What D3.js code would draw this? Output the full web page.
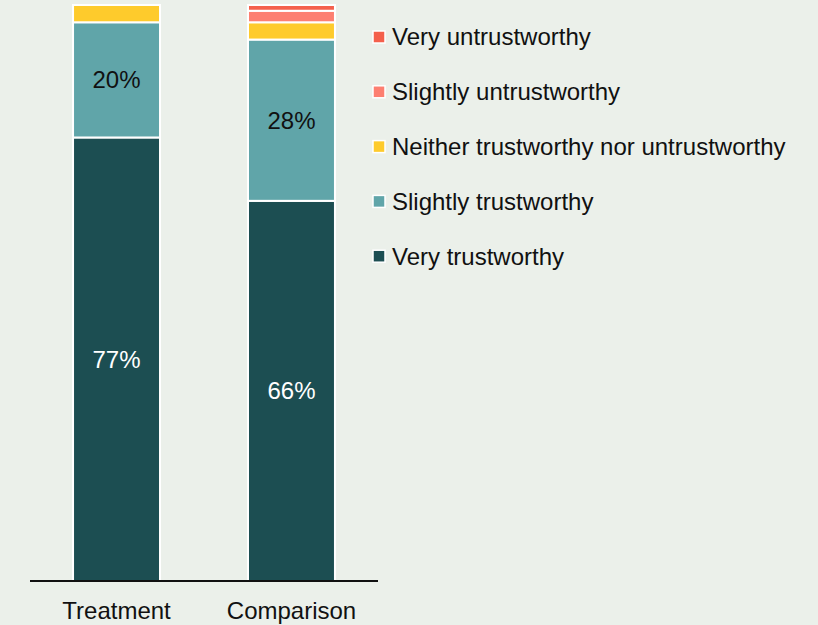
<!DOCTYPE html>
<html>
<head>
<meta charset="utf-8">
<script src="https://cdn.jsdelivr.net/npm/d3@7"></script>
<style>
  html, body { margin: 0; padding: 0; background: #ebf0ea; }
  svg { display: block; font-family: "Liberation Sans", Arial, sans-serif; }
</style>
</head>
<body>
<svg id="chart" width="818" height="625"></svg>
<script>
const groups = ["Treatment", "Comparison"];
const categories = ["Very trustworthy", "Slightly trustworthy", "Neither trustworthy nor untrustworthy", "Slightly untrustworthy", "Very untrustworthy"];
const treatmentValues = [77, 20, 3, 0, 0];
const comparisonValues = [66, 28, 3, 2, 1];
const colors = ["#1c4e52", "#60a5a9", "#fecb2c", "#fd7f71", "#f4604c"];
const labelColors = ["#ffffff", "#111111", "#111111", "#111111", "#111111"];
const legendOrder = ["Very untrustworthy", "Slightly untrustworthy", "Neither trustworthy nor untrustworthy", "Slightly trustworthy", "Very trustworthy"];

const rows = groups.map((g, i) => {
  const vals = i === 0 ? treatmentValues : comparisonValues;
  const o = { group: g };
  categories.forEach((c, j) => o[c] = vals[j]);
  return o;
});

const svg = d3.select("#chart");
const x = d3.scaleBand().domain(groups).range([30, 378]).paddingInner(0.503).paddingOuter(0.246);
const y = d3.scaleLinear().domain([0, 100]).range([581, 5]);
const color = d3.scaleOrdinal().domain(categories).range(colors);

const stack = d3.stack().keys(categories)(rows);

const layer = svg.append("g").selectAll("g").data(stack).join("g")
  .attr("fill", d => color(d.key));
layer.selectAll("rect").data(d => d.filter(s => s[1] - s[0] > 0)).join("rect")
  .attr("x", d => x(d.data.group))
  .attr("width", x.bandwidth())
  .attr("y", d => y(d[1]))
  .attr("height", d => y(d[0]) - y(d[1]))
  .attr("stroke", "#ffffff")
  .attr("stroke-width", 2);

// value labels for big segments
stack.forEach((s, k) => {
  s.forEach(d => {
    const v = d[1] - d[0];
    if (v >= 10) {
      svg.append("text")
        .attr("x", x(d.data.group) + x.bandwidth() / 2)
        .attr("y", (y(d[0]) + y(d[1])) / 2)
        .attr("dy", "0.35em")
        .attr("text-anchor", "middle")
        .attr("font-size", 24)
        .attr("fill", labelColors[k])
        .text(v + "%");
    }
  });
});

// axis
const xAxis = svg.append("g").attr("transform", "translate(0,581)")
  .call(d3.axisBottom(x).tickSize(0).tickPadding(21).tickSizeOuter(0));
xAxis.select(".domain").attr("stroke", "#111").attr("stroke-width", 2).attr("d", "M30,0H378");
xAxis.selectAll("text").attr("font-size", 24).attr("fill", "#111")
  .attr("font-family", "Liberation Sans, Arial, sans-serif");

// legend
const legend = svg.append("g").attr("transform", "translate(373,37)");
const li = legend.selectAll("g").data(legendOrder).join("g")
  .attr("transform", (d, i) => `translate(0,${i * 54.8})`);
li.append("rect").attr("x", 0).attr("y", -6).attr("width", 12).attr("height", 12)
  .attr("fill", d => color(d)).attr("stroke", "#fff").attr("stroke-width", 1.5);
li.append("text").attr("x", 19).attr("dy", "0.35em").attr("font-size", 24).attr("fill", "#111")
  .text(d => d);
</script>
</body>
</html>
